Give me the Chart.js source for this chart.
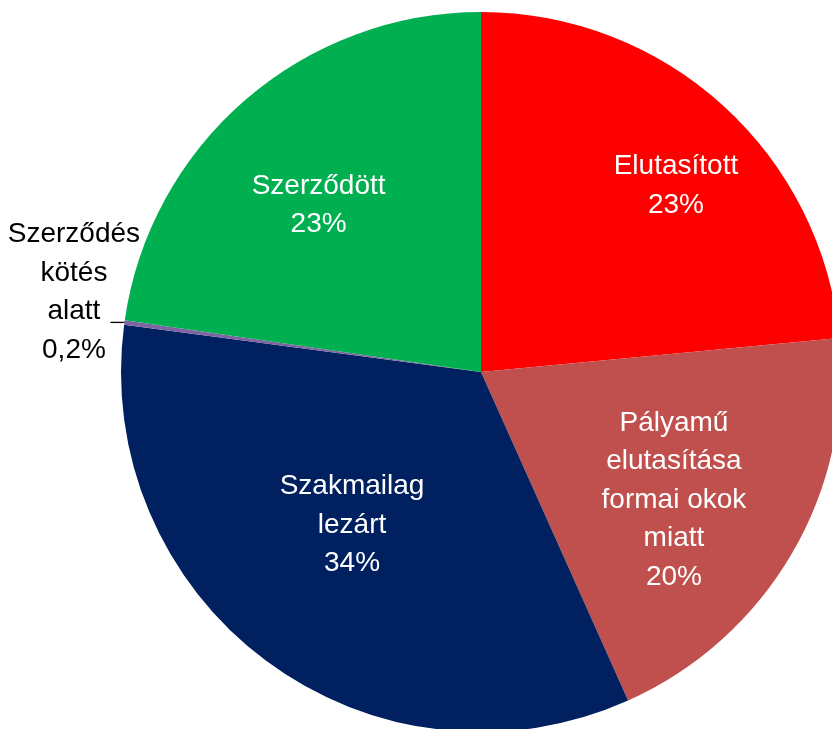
<!DOCTYPE html>
<html>
<head>
<meta charset="utf-8">
<script src="https://cdn.jsdelivr.net/npm/chart.js@4/dist/chart.umd.min.js"></script>
<style>
html,body{margin:0;padding:0;background:#fff;overflow:hidden;width:832px;height:729px;}
#wrap{position:absolute;left:0;top:0;width:962px;height:744px;}
</style>
</head>
<body>
<div id="wrap"><canvas id="c" width="962" height="744"></canvas></div>
<script>
// Data
const categories = [
  ["Elutasított"],
  ["Pályamű", "elutasítása", "formai okok", "miatt"],
  ["Szakmailag", "lezárt"],
  ["Szerződés", "kötés", "alatt"],
  ["Szerződött"]
];
const values = [23.5, 19.8, 33.8, 0.2, 22.7];
const percentLabels = ["23%", "20%", "34%", "0,2%", "23%"];

// Styling
const colors = ["#FF0000", "#C0504D", "#002060", "#8064A2", "#00B050"];
const textColors = ["#FFFFFF", "#FFFFFF", "#FFFFFF", "#000000", "#FFFFFF"];
// label placement: angle nudge (deg) and radius fraction; null => outside with leader
const labelAngleNudge = [4.0, 3.3, 3.4, 0, -3.35];
const labelRadiusFrac = [0.749, 0.643, 0.556, null, 0.647];
const FONT = '28px "Liberation Sans", Arial, sans-serif';
const LINE_H = 38.5;

const labelPlugin = {
  id: 'sliceLabels',
  afterDatasetsDraw(chart) {
    const ctx = chart.ctx;
    const meta = chart.getDatasetMeta(0);
    ctx.save();
    ctx.font = FONT;
    ctx.textAlign = 'center';
    ctx.textBaseline = 'middle';
    meta.data.forEach((arc, i) => {
      const p = arc.getProps(['x','y','startAngle','endAngle','outerRadius'], true);
      const mid = (p.startAngle + p.endAngle) / 2;
      const lines = categories[i].concat([percentLabels[i]]);
      let cx, cy;
      if (labelRadiusFrac[i] !== null) {
        const a = mid + labelAngleNudge[i] * Math.PI / 180;
        const r = p.outerRadius * labelRadiusFrac[i];
        cx = p.x + Math.cos(a) * r;
        cy = p.y + Math.sin(a) * r;
      } else {
        const sx = p.x + Math.cos(mid) * p.outerRadius;
        const sy = p.y + Math.sin(mid) * p.outerRadius;
        const ex = sx - 14, ey = sy;
        ctx.strokeStyle = '#000';
        ctx.lineWidth = 1.3;
        ctx.beginPath();
        ctx.moveTo(sx, sy);
        ctx.lineTo(ex, ey);
        ctx.stroke();
        cx = ex - 36.5;
        cy = ey - 30;
      }
      ctx.fillStyle = textColors[i];
      const n = lines.length;
      lines.forEach((t, k) => {
        ctx.fillText(t, cx, cy + (k - (n - 1) / 2) * LINE_H);
      });
    });
    ctx.restore();
  }
};

new Chart(document.getElementById('c'), {
  type: 'pie',
  data: {
    labels: categories.map(c => c.join(' ')),
    datasets: [{
      data: values,
      backgroundColor: colors,
      borderWidth: 0,
      hoverOffset: 0
    }]
  },
  options: {
    responsive: false,
    animation: false,
    radius: 360,
    layout: { padding: 0 },
    events: [],
    plugins: {
      legend: { display: false },
      tooltip: { enabled: false }
    }
  },
  plugins: [labelPlugin]
});
</script>
</body>
</html>
